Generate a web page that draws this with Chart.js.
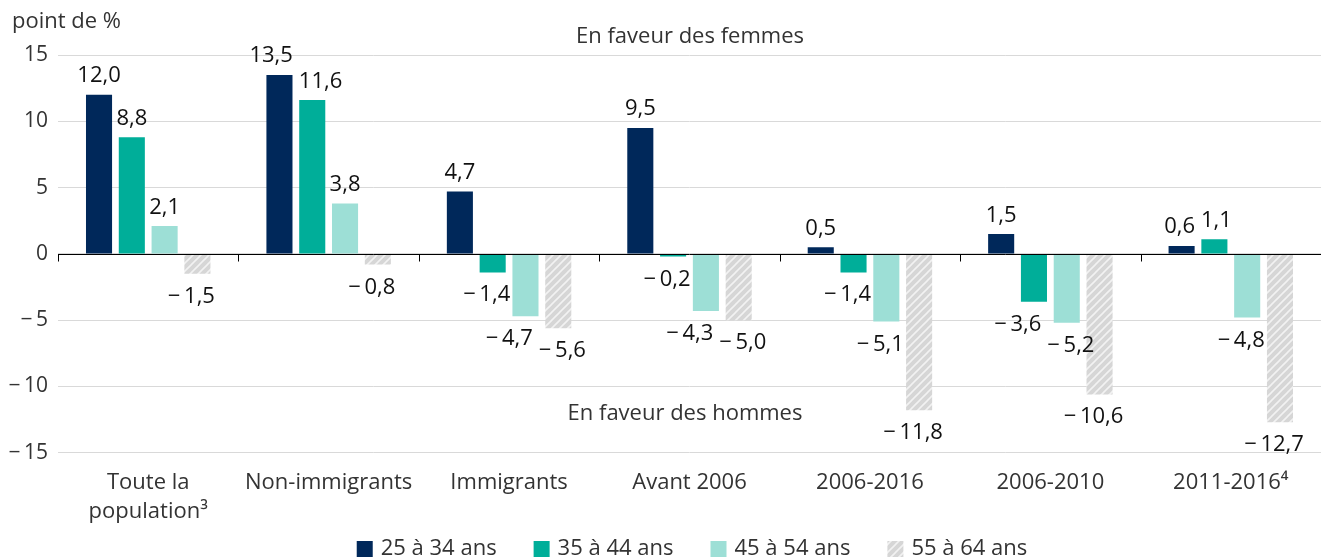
<!DOCTYPE html>
<html>
<head>
<meta charset="utf-8">
<script src="https://cdn.jsdelivr.net/npm/chart.js@4.4.1/dist/chart.umd.min.js"></script>
<style>
  html, body { margin: 0; padding: 0; background: #fff; }
  #wrap { position: relative; width: 1321px; height: 560px; }
</style>
</head>
<body>
<div id="wrap"><canvas id="chart"></canvas></div>
<script>
// categories and series
const categories = [['Toute la', 'population³'], 'Non-immigrants', 'Immigrants', 'Avant 2006', '2006-2016', '2006-2010', '2011-2016⁴'];
const age25to34 = [12.0, 13.5, 4.7, 9.5, 0.5, 1.5, 0.6];
const age35to44 = [8.8, 11.6, -1.4, -0.2, -1.4, -3.6, 1.1];
const age45to54 = [2.1, 3.8, -4.7, -4.3, -5.1, -5.2, -4.8];
const age55to64 = [-1.5, -0.8, -5.6, -5.0, -11.8, -10.6, -12.7];
const seriesNames = ['25 à 34 ans', '35 à 44 ans', '45 à 54 ans', '55 à 64 ans'];
const yTicks = [-15, -10, -5, 0, 5, 10, 15];
const unitLabel = 'point de %';
const noteTop = 'En faveur des femmes';
const noteBottom = 'En faveur des hommes';

const FONT = "'Open Sans', 'Noto Sans', sans-serif";

// hatched grey fill for the oldest group
function makeHatch() {
    const c = document.createElement('canvas');
    c.width = 8; c.height = 8;
    const g = c.getContext('2d');
    g.fillStyle = '#d6d6d6';
    g.fillRect(0, 0, 8, 8);
    g.strokeStyle = '#f2f2f2';
    g.lineWidth = 1.6;
    g.beginPath();
    g.moveTo(-2, 10); g.lineTo(10, -2);
    g.moveTo(-2, 2); g.lineTo(2, -2);
    g.moveTo(6, 10); g.lineTo(10, 6);
    g.stroke();
    return c;
}
const hatch = document.createElement('canvas').getContext('2d').createPattern(makeHatch(), 'repeat');

function fmt(v) {
    const s = Math.abs(v).toFixed(1).replace('.', ',');
    return v < 0 ? '\u2212\u2009' + s : s;
}

const extras = {
    id: 'extras',
    afterDatasetsDraw(chart) {
        const ctx = chart.ctx;
        const x = chart.scales.x, y = chart.scales.y;
        const area = chart.chartArea;
        const y0 = Math.round(y.getPixelForValue(0)) + 0.5;
        ctx.save();
        // zero line and category ticks
        ctx.strokeStyle = '#000';
        ctx.lineWidth = 1;
        ctx.beginPath();
        ctx.moveTo(area.left, y0);
        ctx.lineTo(area.right, y0);
        for (let i = 0; i < categories.length; i++) {
            const px = Math.round(x.getPixelForValue(i - 0.5)) + 0.5;
            ctx.moveTo(px, y0);
            ctx.lineTo(px, y0 + 7);
        }
        ctx.stroke();

        // value labels, nudged apart when two of a group collide
        ctx.font = '22px ' + FONT;
        ctx.fillStyle = '#111';
        ctx.textAlign = 'center';
        ctx.textBaseline = 'alphabetic';
        for (let i = 0; i < categories.length; i++) {
            const items = chart.data.datasets.map((ds, di) => {
                const bar = chart.getDatasetMeta(di).data[i];
                const v = ds.data[i];
                const text = fmt(v);
                return {
                    text,
                    w: ctx.measureText(text).width,
                    cx: v >= 0 ? bar.x : bar.x - 6,
                    by: v >= 0 ? bar.y - 12.5 : bar.y + 29,
                    neg: v < 0
                };
            });
            for (let k = 1; k < items.length; k++) {
                const a = items[k - 1], b = items[k];
                if (a.neg !== b.neg || Math.abs(a.by - b.by) > 27) continue;
                const need = (a.w + b.w) / 2 + 6;
                const gap = b.cx - a.cx;
                if (gap < need) {
                    const d = (need - gap) / 2;
                    a.cx -= d; b.cx += d;
                }
            }
            items.forEach(it => ctx.fillText(it.text, it.cx, it.by));
        }

        // notes
        ctx.font = '22px ' + FONT;
        ctx.fillStyle = '#333';
        ctx.fillText(noteTop, 690, 43);
        ctx.fillText(noteBottom, 685, 420);
        ctx.textAlign = 'left';
        ctx.fillText(unitLabel, 12, 28);

        // legend
        const box = 16, boxGap = 8, itemGap = 37;
        const widths = chart.data.datasets.map(ds => box + boxGap + ctx.measureText(ds.label).width);
        const total = widths.reduce((s, w) => s + w, 0) + itemGap * (widths.length - 1);
        let lx = 692 - total / 2;
        ctx.textBaseline = 'middle';
        chart.data.datasets.forEach((ds, di) => {
            ctx.fillStyle = ds.backgroundColor;
            ctx.fillRect(lx, 541, box, box);
            ctx.fillStyle = '#333';
            ctx.fillText(ds.label, lx + box + boxGap, 549);
            lx += widths[di] + itemGap;
        });
        ctx.restore();
    }
};

new Chart(document.getElementById('chart'), {
    type: 'bar',
    data: {
        labels: categories,
        datasets: [
            { label: seriesNames[0], data: age25to34, backgroundColor: '#00285a' },
            { label: seriesNames[1], data: age35to44, backgroundColor: '#00ae99' },
            { label: seriesNames[2], data: age45to54, backgroundColor: '#9ddfd6' },
            { label: seriesNames[3], data: age55to64, backgroundColor: hatch }
        ]
    },
    options: {
        responsive: true,
        maintainAspectRatio: false,
        animation: false,
        layout: { padding: { top: 55, right: 0, left: 0, bottom: 26 } },
        datasets: { bar: { categoryPercentage: 0.727, barPercentage: 0.795 } },
        plugins: {
            legend: { display: false },
            tooltip: { enabled: false }
        },
        scales: {
            x: {
                grid: { display: false },
                border: { display: false },
                ticks: {
                    color: '#333',
                    font: { family: FONT, size: 22, lineHeight: 1.3 },
                    maxRotation: 0,
                    autoSkip: false,
                    padding: 8
                }
            },
            y: {
                min: -15,
                max: 15,
                afterFit: axis => { axis.width = 58; },
                afterBuildTicks: axis => { axis.ticks = yTicks.map(v => ({ value: v })); },
                grid: { color: '#d9d9d9', drawTicks: false },
                border: { display: false },
                ticks: {
                    color: '#333',
                    font: { family: FONT, size: 21 },
                    padding: 10,
                    callback: v => v < 0 ? '\u2212\u2009' + Math.abs(v) : String(v)
                }
            }
        }
    },
    plugins: [extras]
});
</script>
</body>
</html>
